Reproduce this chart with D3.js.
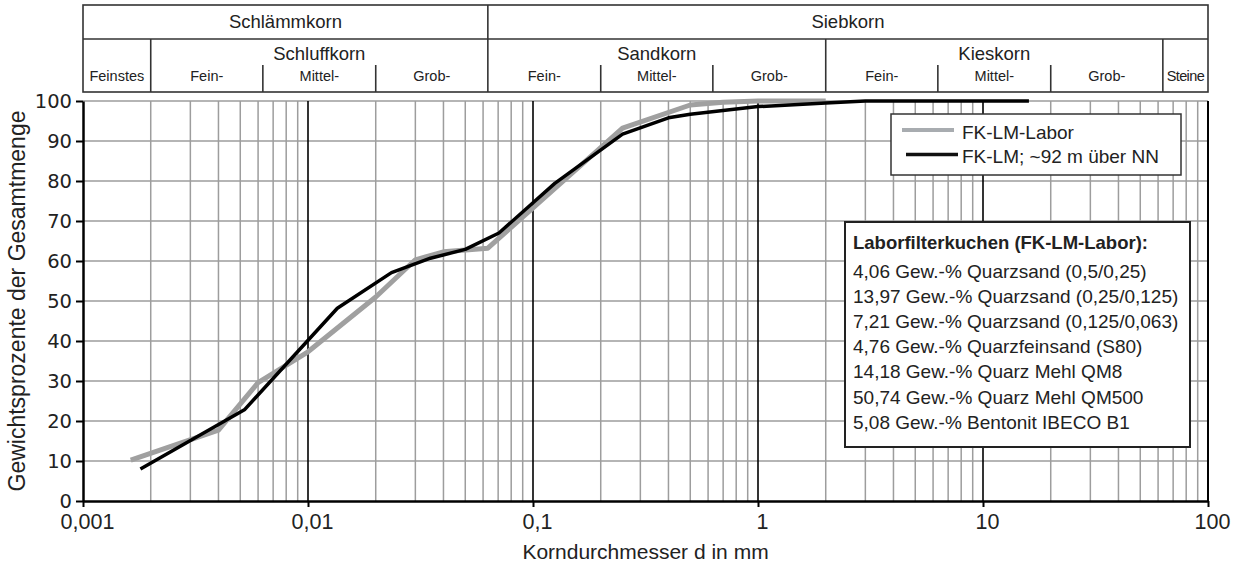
<!DOCTYPE html>
<html>
<head>
<meta charset="utf-8">
<script src="https://cdn.jsdelivr.net/npm/d3@7/dist/d3.min.js"></script>
<style>
  html, body { margin: 0; padding: 0; background: #fff; }
  svg { display: block; }
</style>
</head>
<body>
<svg id="chart" width="1241" height="568"></svg>
<script>
// Sieve curves: grain diameter (mm) vs. cumulative passing (% by weight)
const laborDiameter = [0.00163, 0.004, 0.006, 0.01, 0.02, 0.03, 0.04, 0.063, 0.25, 0.5, 0.7, 1, 2];
const laborPassing  = [10.2, 17.7, 29.6, 37.3, 51, 60.3, 62.3, 63.2, 93.2, 99, 99.7, 100, 100];

const fieldDiameter = [0.0018, 0.00524, 0.0135, 0.0235, 0.035, 0.05, 0.0706, 0.125, 0.25, 0.4, 0.5, 1, 2, 3, 16];
const fieldPassing  = [8, 22.9, 48.2, 57.1, 60.7, 62.9, 67, 79.4, 91.7, 95.8, 96.7, 98.6, 99.5, 100, 100];

const seriesNames = ["FK-LM-Labor", "FK-LM; ~92 m über NN"];

// Axis ticks
const yTicks = [0, 10, 20, 30, 40, 50, 60, 70, 80, 90, 100];
const xTicks = [0.001, 0.01, 0.1, 1, 10, 100];
const xTickLabels = ["0,001", "0,01", "0,1", "1", "10", "100"];

// Grain size classification header (DIN 4022)
const groupNames  = ["Schlämmkorn", "Siebkorn"];
const groupBounds = [0.001, 0.063, 100];
const soilNames   = ["Schluffkorn", "Sandkorn", "Kieskorn"];
const soilBounds  = [0.002, 0.063, 2, 63];
const subNames    = ["Feinstes", "Fein-", "Mittel-", "Grob-", "Fein-", "Mittel-", "Grob-", "Fein-", "Mittel-", "Grob-", "Steine"];
const subBounds   = [0.001, 0.002, 0.0063, 0.02, 0.063, 0.2, 0.63, 2, 6.3, 20, 63, 100];

// Mixture of the laboratory filter cake
const recipeTitle = "Laborfilterkuchen (FK-LM-Labor):";
const recipeLines = [
  "4,06 Gew.-% Quarzsand (0,5/0,25)",
  "13,97 Gew.-% Quarzsand (0,25/0,125)",
  "7,21 Gew.-% Quarzsand (0,125/0,063)",
  "4,76 Gew.-% Quarzfeinsand (S80)",
  "14,18 Gew.-% Quarz Mehl QM8",
  "50,74 Gew.-% Quarz Mehl QM500",
  "5,08 Gew.-% Bentonit IBECO B1"
];

const svg = d3.select("#chart");
const sans = "'Liberation Sans', Arial, sans-serif";

const x = d3.scaleLog().domain([0.001, 100]).range([83, 1208]);
const y = d3.scaleLinear().domain([0, 100]).range([501, 101]);

const gridColor = "#9d9d9d";

// ---- grid ----
const grid = svg.append("g");
grid.selectAll("line.h").data(yTicks.filter(v => v > 0)).join("line")
  .attr("x1", x(0.001)).attr("x2", x(100))
  .attr("y1", d => y(d)).attr("y2", d => y(d))
  .attr("stroke", gridColor).attr("stroke-width", 1.5);

const minorX = [];
[0.001, 0.01, 0.1, 1, 10].forEach(dec => { for (let m = 2; m <= 9; m++) minorX.push(dec * m); });
grid.selectAll("line.v").data(minorX).join("line")
  .attr("x1", d => x(d)).attr("x2", d => x(d))
  .attr("y1", y(0)).attr("y2", y(100))
  .attr("stroke", gridColor).attr("stroke-width", 1.5);

grid.selectAll("line.major").data([0.01, 0.1, 1, 10, 100]).join("line")
  .attr("x1", d => x(d)).attr("x2", d => x(d))
  .attr("y1", y(0)).attr("y2", y(100))
  .attr("stroke", "#000").attr("stroke-width", d => d === 100 ? 2 : 1.6);

// ---- axes ----
const yAxis = svg.append("g").attr("transform", `translate(${x(0.001)},0)`)
  .call(d3.axisLeft(y).tickValues(yTicks).tickSize(7).tickSizeOuter(0).tickPadding(4));
yAxis.select(".domain").attr("stroke", "#000").attr("stroke-width", 2.5);
yAxis.selectAll(".tick line").attr("stroke", "#000").attr("stroke-width", 2);
yAxis.selectAll(".tick text")
  .attr("font-family", "'DejaVu Sans', Verdana, sans-serif")
  .attr("font-size", 19.5).attr("fill", "#222");

const xAxis = svg.append("g").attr("transform", `translate(0,${y(0)})`)
  .call(d3.axisBottom(x).tickValues(xTicks).tickSize(6).tickSizeOuter(0).tickPadding(7)
    .tickFormat((d, i) => xTickLabels[i]));
xAxis.select(".domain").attr("stroke", "#000").attr("stroke-width", 2.5);
xAxis.selectAll(".tick line").attr("stroke", "#000").attr("stroke-width", 2);
xAxis.selectAll(".tick text")
  .attr("font-family", sans).attr("font-size", 21.5).attr("fill", "#222").attr("dx", 4);

svg.append("text")
  .attr("x", (x(0.001) + x(100)) / 2).attr("y", 559)
  .attr("text-anchor", "middle")
  .attr("font-family", sans).attr("font-size", 21).attr("fill", "#222")
  .text("Korndurchmesser d in mm");

svg.append("text")
  .attr("transform", `translate(25,${(y(0) + y(100)) / 2}) rotate(-90)`)
  .attr("text-anchor", "middle")
  .attr("font-family", sans).attr("font-size", 23).attr("fill", "#222")
  .text("Gewichtsprozente der Gesamtmenge");

// ---- curves ----
const line = d3.line().x(d => x(d[0])).y(d => y(d[1]));
svg.append("path")
  .datum(laborDiameter.map((d, i) => [d, laborPassing[i]]))
  .attr("d", line).attr("fill", "none")
  .attr("stroke", "#a0a0a0").attr("stroke-width", 5).attr("stroke-linejoin", "round");
svg.append("path")
  .datum(fieldDiameter.map((d, i) => [d, fieldPassing[i]]))
  .attr("d", line).attr("fill", "none")
  .attr("stroke", "#000").attr("stroke-width", 3.5).attr("stroke-linejoin", "round");

// ---- header table ----
const hdr = svg.append("g");
const tTop = 5, tMid = 39, tSub = 65, tBot = 92;
const tStroke = "#333";
hdr.append("rect").attr("x", x(0.001)).attr("y", tTop)
  .attr("width", x(100) - x(0.001)).attr("height", tBot - tTop)
  .attr("fill", "none").attr("stroke", tStroke).attr("stroke-width", 1.6);
hdr.append("line").attr("x1", x(0.001)).attr("x2", x(100)).attr("y1", tMid).attr("y2", tMid)
  .attr("stroke", tStroke).attr("stroke-width", 1.6);
hdr.append("line").attr("x1", x(0.063)).attr("x2", x(0.063)).attr("y1", tTop).attr("y2", tBot)
  .attr("stroke", tStroke).attr("stroke-width", 1.6);
hdr.selectAll("line.soil").data([0.002, 2, 63]).join("line")
  .attr("x1", d => x(d)).attr("x2", d => x(d)).attr("y1", tMid).attr("y2", tBot)
  .attr("stroke", tStroke).attr("stroke-width", 1.6);
hdr.selectAll("line.sub").data([0.0063, 0.02, 0.2, 0.63, 6.3, 20]).join("line")
  .attr("x1", d => x(d)).attr("x2", d => x(d)).attr("y1", tSub).attr("y2", tBot)
  .attr("stroke", tStroke).attr("stroke-width", 1.6);

hdr.selectAll("text.group").data(groupNames).join("text")
  .attr("x", (d, i) => (x(groupBounds[i]) + x(groupBounds[i + 1])) / 2)
  .attr("y", 28).attr("text-anchor", "middle")
  .attr("font-family", sans).attr("font-size", 18.5).attr("fill", "#222")
  .text(d => d);
hdr.selectAll("text.soil").data(soilNames).join("text")
  .attr("x", (d, i) => (x(soilBounds[i]) + x(soilBounds[i + 1])) / 2)
  .attr("y", 60).attr("text-anchor", "middle")
  .attr("font-family", sans).attr("font-size", 18.5).attr("fill", "#222")
  .text(d => d);
hdr.selectAll("text.sub").data(subNames).join("text")
  .attr("x", (d, i) => (x(subBounds[i]) + x(subBounds[i + 1])) / 2)
  .attr("y", 81).attr("text-anchor", "middle")
  .attr("font-family", sans).attr("font-size", 14.5).attr("fill", "#222")
  .attr("letter-spacing", d => d === "Steine" ? -0.6 : 0)
  .text(d => d);

// ---- legend ----
const lg = svg.append("g");
lg.append("rect").attr("x", 891).attr("y", 114).attr("width", 290).attr("height", 61)
  .attr("fill", "#fff").attr("stroke", "#333").attr("stroke-width", 1.5);
const legendColors = ["#a8acb0", "#111"];
const legendWidths = [4, 3.5];
const legendX = [[902, 954], [906, 958]];
seriesNames.forEach((name, i) => {
  const yy = 130 + i * 24.5;
  lg.append("line").attr("x1", legendX[i][0]).attr("x2", legendX[i][1]).attr("y1", yy).attr("y2", yy)
    .attr("stroke", legendColors[i]).attr("stroke-width", legendWidths[i]);
  lg.append("text").attr("x", 962).attr("y", yy + 8.5)
    .attr("font-family", sans).attr("font-size", 19).attr("fill", "#222").text(name);
});

// ---- recipe box ----
const rb = svg.append("g");
rb.append("rect").attr("x", 845).attr("y", 222).attr("width", 345).attr("height", 225)
  .attr("fill", "#fff").attr("stroke", "#222").attr("stroke-width", 2);
rb.append("text").attr("x", 853).attr("y", 249)
  .attr("font-family", sans).attr("font-size", 18.5).attr("font-weight", "bold").attr("fill", "#222")
  .text(recipeTitle);
rb.selectAll("text.line").data(recipeLines).join("text")
  .attr("x", 853).attr("y", (d, i) => 278 + i * 25.1)
  .attr("font-family", sans).attr("font-size", 19).attr("fill", "#222")
  .text(d => d);
</script>
</body>
</html>
